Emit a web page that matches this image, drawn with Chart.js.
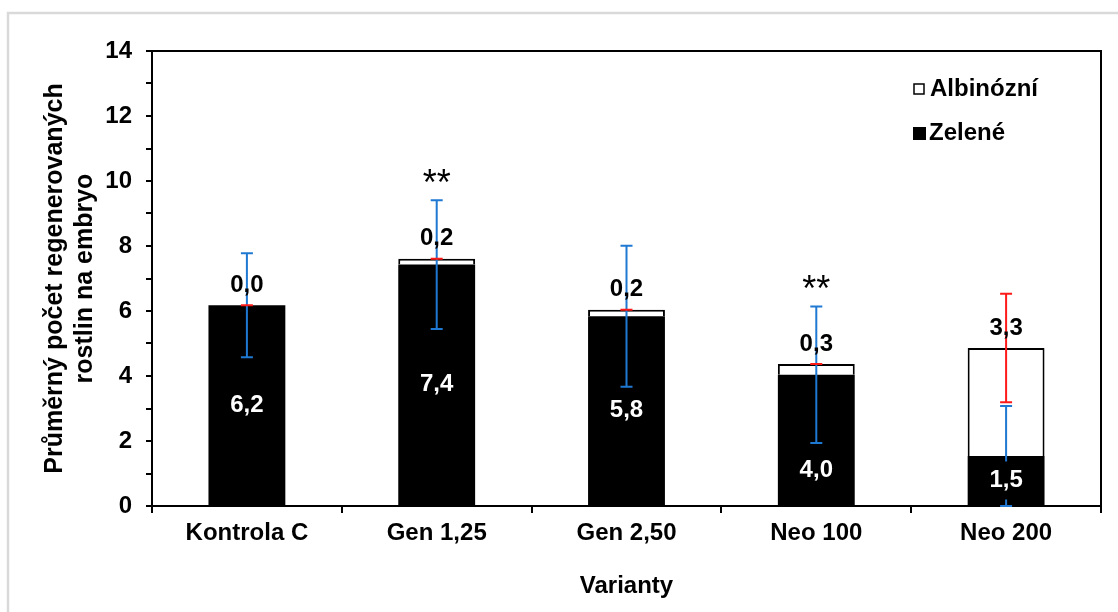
<!DOCTYPE html>
<html>
<head>
<meta charset="utf-8">
<script src="https://cdn.jsdelivr.net/npm/chart.js@4"></script>
<style>
  html, body { margin: 0; padding: 0; background: #fff; overflow: hidden; }
  #wrap { position: relative; width: 1118px; height: 612px; }
</style>
</head>
<body>
<div id="wrap"><canvas id="chart" width="1118" height="612"></canvas></div>
<script>
// --- data ---
const categories = ['Kontrola C', 'Gen 1,25', 'Gen 2,50', 'Neo 100', 'Neo 200'];
const zelene = [6.18, 7.43, 5.84, 4.04, 1.54];      // green plants
const albino = [0.0, 0.18, 0.2, 0.33, 3.32];        // albino plants
const zeleneErr = [1.6, 1.98, 2.17, 2.1, 1.54];
const albinoErr = [0, 0, 0, 0, 1.67];
const significance = ['', '**', '', '**', ''];
const yTicks = [0, 2, 4, 6, 8, 10, 12, 14];

const FAMILY = '"Liberation Sans", Arial, sans-serif';
const BOLD = (size) => ({ family: FAMILY, size: size, weight: 'bold' });
const fmt = (v) => v.toFixed(1).replace('.', ',');

// error bars, value labels, legend, frame
const decorPlugin = {
    id: 'decor',
    beforeDraw(chart) {
        const ctx = chart.ctx;
        ctx.save();
        ctx.fillStyle = '#fff';
        ctx.fillRect(0, 0, chart.width, chart.height);
        ctx.strokeStyle = '#d9d9d9';
        ctx.lineWidth = 2.5;
        ctx.strokeRect(8, 13, chart.width + 20, chart.height + 20);
        ctx.restore();
    },
    afterDatasetsDraw(chart) {
        const ctx = chart.ctx;
        const area = chart.chartArea;
        const yScale = chart.scales.y;
        const metaZ = chart.getDatasetMeta(0);

        ctx.save();
        // box round the plot area
        ctx.strokeStyle = '#000';
        ctx.lineWidth = 2;
        ctx.strokeRect(area.left, area.top, area.right - area.left, area.bottom - area.top);

        function errBar(x, v, e, color) {
            const top = yScale.getPixelForValue(v + e);
            const bot = yScale.getPixelForValue(Math.max(0, v - e));
            ctx.strokeStyle = color;
            ctx.lineWidth = 2;
            ctx.beginPath();
            ctx.moveTo(x, top); ctx.lineTo(x, bot);
            ctx.moveTo(x - 6, top); ctx.lineTo(x + 6, top);
            ctx.moveTo(x - 6, bot); ctx.lineTo(x + 6, bot);
            ctx.stroke();
        }

        categories.forEach((c, i) => {
            const x = metaZ.data[i].x;
            errBar(x, zelene[i], zeleneErr[i], '#1f78d1');
            errBar(x, zelene[i] + albino[i], albinoErr[i], '#ff1a1a');
        });

        ctx.font = 'bold 24px ' + FAMILY;
        ctx.textAlign = 'center';
        ctx.textBaseline = 'middle';
        categories.forEach((c, i) => {
            const bz = metaZ.data[i];
            // Neo 100 label sits lower in the original
            const nudge = i === 3 ? 31 : 0;
            const ly = (bz.y + bz.base) / 2 + nudge;
            const txt = fmt(zelene[i]);
            const w = ctx.measureText(txt).width;
            ctx.fillStyle = '#000';
            ctx.fillRect(bz.x - w / 2 - 4, ly - 19, w + 8, 38);
            ctx.fillStyle = '#fff';
            ctx.fillText(txt, bz.x, ly);

            const topY = yScale.getPixelForValue(zelene[i] + albino[i]);
            ctx.fillStyle = '#000';
            ctx.fillText(fmt(albino[i]), bz.x, topY - 20);

            if (significance[i]) {
                const errTop = yScale.getPixelForValue(zelene[i] + zeleneErr[i]);
                ctx.save();
                ctx.font = '36px ' + FAMILY;
                ctx.textBaseline = 'alphabetic';
                ctx.fillText(significance[i], bz.x, errTop - 5);
                ctx.restore();
            }
        });

        // legend (Albinózní above Zelené)
        ctx.textAlign = 'left';
        ctx.font = 'bold 24px ' + FAMILY;
        const dsA = chart.data.datasets[1];
        const dsZ = chart.data.datasets[0];
        ctx.fillStyle = '#fff';
        ctx.strokeStyle = '#000';
        ctx.lineWidth = 1.5;
        ctx.fillRect(914, 84, 10, 10);
        ctx.strokeRect(914, 84, 10, 10);
        ctx.fillStyle = '#000';
        ctx.fillText(dsA.label, 930, 89);
        ctx.fillRect(913, 127, 13, 13);
        ctx.fillText(dsZ.label, 929, 133);
        ctx.restore();
    }
};

new Chart(document.getElementById('chart'), {
    type: 'bar',
    data: {
        labels: categories,
        datasets: [
            { label: 'Zelené', data: zelene, backgroundColor: '#000', borderColor: '#000', borderWidth: 0 },
            { label: 'Albinózní', data: albino, backgroundColor: '#fff', borderColor: '#000', borderWidth: 2 }
        ]
    },
    options: {
        responsive: false,
        animation: false,
        devicePixelRatio: 1,
        layout: { padding: { top: 51, right: 17, bottom: 0, left: 0 } },
        datasets: { bar: { barPercentage: 0.405, categoryPercentage: 1.0 } },
        plugins: { legend: { display: false }, tooltip: { enabled: false } },
        scales: {
            x: {
                stacked: true,
                grid: { offset: true, drawOnChartArea: false, drawTicks: true, tickLength: 7, color: '#000', lineWidth: 2 },
                border: { display: true, color: '#000', width: 2 },
                ticks: { color: '#000', font: BOLD(24), padding: 6 },
                title: { display: true, text: 'Varianty', color: '#000', font: BOLD(24), padding: { top: 0, bottom: 11 } },
                afterFit(s) { s.height = 106; }
            },
            y: {
                stacked: true,
                min: 0,
                max: 14,
                grid: { drawOnChartArea: false, drawTicks: true, tickLength: 6, color: '#000', lineWidth: 2 },
                border: { display: true, color: '#000', width: 2 },
                ticks: {
                    stepSize: 1,
                    autoSkip: false,
                    color: '#000',
                    font: BOLD(24),
                    padding: 14,
                    callback: (v) => yTicks.includes(v) ? String(v) : ''
                },
                title: {
                    display: true,
                    text: ['Průměrný počet regenerovaných', 'rostlin na embryo'],
                    color: '#000',
                    font: { family: FAMILY, size: 25, weight: 'bold', lineHeight: '30px' },
                    padding: { top: 40, bottom: 0 }
                },
                afterFit(s) { s.width = 152; }
            }
        }
    },
    plugins: [decorPlugin]
});
</script>
</body>
</html>
